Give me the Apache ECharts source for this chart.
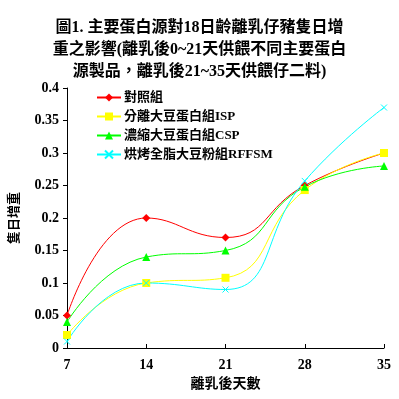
<!DOCTYPE html>
<html><head><meta charset="utf-8">
<script src="https://cdn.jsdelivr.net/npm/echarts@6/dist/echarts.min.js"></script>
<style>html,body{margin:0;padding:0;background:#fff}#c{width:399px;height:399px}</style>
</head><body><div id="c"></div>
<script>
const days = ['7','14','21','28','35'];
const seriesNames = ['對照組','分離大豆蛋白組ISP','濃縮大豆蛋白組CSP','烘烤全脂大豆粉組RFFSM'];
const control = [0.05, 0.20, 0.17, 0.25, 0.30];
const isp = [0.02, 0.10, 0.108, 0.243, 0.30];
const csp = [0.04, 0.14, 0.15, 0.248, 0.28];
const rffsm = [0.01, 0.10, 0.09, 0.257, 0.37];
const yTicks = [0, 0.05, 0.1, 0.15, 0.2, 0.25, 0.3, 0.35, 0.4];

const FONT = "'Liberation Serif','Noto Sans CJK TC',serif";
const chart = echarts.init(document.getElementById('c'), null, {renderer:'canvas'});
const xSym = 'path://M0,0L10,10M10,0L0,10';
function mk(name, data, color, symbol, size, extra) {
  return Object.assign({
    name, type:'line', data, smooth:0.5, symbol, symbolSize:size,
    lineStyle:{color, width:1}, itemStyle:{color}, showSymbol:true, animation:false
  }, extra||{});
}
chart.setOption({
  backgroundColor:'#fff',
  title:{
    text:'圖1. 主要蛋白源對18日齡離乳仔豬隻日增\n重之影響(離乳後0~21天供餵不同主要蛋白\n源製品，離乳後21~35天供餵仔二料)',
    left:'center', top:12,
    textStyle:{fontFamily:FONT, fontWeight:'bold', fontSize:16, lineHeight:22, color:'#000'}
  },
  legend:{
    orient:'vertical', left:91, top:86, itemWidth:24, itemHeight:10, itemGap:6,
    textStyle:{fontFamily:FONT, fontWeight:'bold', fontSize:13, color:'#000', padding:[0,0,0,-2]},
    data:seriesNames
  },
  grid:{left:67, right:15, top:88, bottom:51, containLabel:false},
  xAxis:{
    type:'category', data:days, boundaryGap:false,
    name:'離乳後天數', nameLocation:'middle', nameGap:21,
    nameTextStyle:{fontFamily:FONT, fontWeight:'bold', fontSize:14, color:'#000'},
    axisLine:{lineStyle:{color:'#000', width:1}},
    axisTick:{inside:true, length:4, lineStyle:{color:'#000'}},
    axisLabel:{fontFamily:FONT, fontWeight:'bold', fontSize:14, color:'#000', margin:10},
    splitLine:{show:false}
  },
  yAxis:{
    type:'value', min:0, max:0.4, interval:0.05,
    name:'隻日增重', nameLocation:'middle', nameGap:46, nameRotate:90,
    nameTextStyle:{fontFamily:FONT, fontWeight:'bold', fontSize:13, color:'#000'},
    axisLine:{show:true, lineStyle:{color:'#000', width:1}},
    axisTick:{show:true, length:4, lineStyle:{color:'#000'}},
    axisLabel:{fontFamily:FONT, fontWeight:'bold', fontSize:14, color:'#000', margin:8,
      formatter:v=>{const t=yTicks.find(x=>Math.abs(x-v)<1e-9);return t===undefined?'':String(t);}},
    splitLine:{show:false}
  },
  series:[
    mk(seriesNames[0], control, '#ff0000', 'diamond', 8),
    mk(seriesNames[1], isp, '#ffff00', 'rect', 8),
    mk(seriesNames[2], csp, '#00ff00', 'triangle', 8),
    mk(seriesNames[3], rffsm, '#00ffff', xSym, 6, {itemStyle:{color:'#00ffff', borderColor:'#00ffff', borderWidth:1}})
  ]
});
</script></body></html>
